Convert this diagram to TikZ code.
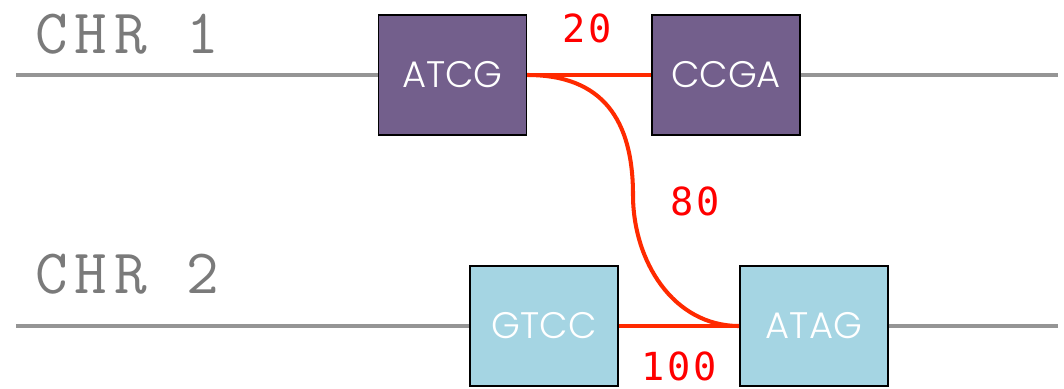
\documentclass[tikz,border=0pt]{standalone}
\usepackage{fontspec}
\newfontfamily\numfont[LetterSpace=8]{DejaVu Sans Mono}
\newfontfamily\chrfont[LetterSpace=11]{Latin Modern Mono}
\newfontfamily\basefont[UprightFont=* Light]{Poppins}
\definecolor{chrgray}{HTML}{959595}
\definecolor{labelgray}{HTML}{7A7A7A}
\definecolor{seqpurple}{HTML}{735F8C}
\definecolor{seqblue}{HTML}{A5D5E3}
\definecolor{linkred}{HTML}{FF2A00}
\tikzset{
	seq/.style={draw=black, line width=1pt, shape=rectangle, minimum width=2.96cm, minimum height=2.4cm, text=white, font=\basefont\fontsize{21}{21}\selectfont},
	chrline/.style={draw=chrgray, line width=2.3pt},
	link/.style={draw=linkred, line width=2.3pt},
	chrlabel/.style={text=labelgray, anchor=base west, inner sep=0pt, font=\chrfont\fontsize{36}{36}\selectfont},
	dist/.style={text=red, anchor=base, inner sep=0pt, font=\numfont\fontsize{22}{22}\selectfont}
}
\begin{document}
\begin{tikzpicture}
						\useasboundingbox (0,0) rectangle (21.28,-7.76);

						\node[chrlabel] (chr_1) at (0.7,-1.06) {CHR 1};
						\node[chrlabel] (chr_2) at (0.7,-5.86) {CHR 2};

						\node[seq, fill=seqpurple] (s_atcg) at (9.05,-1.5) {ATCG};
						\node[seq, fill=seqpurple] (s_ccga) at (14.52,-1.5) {CCGA};
						\node[seq, fill=seqblue] (s_gtcc) at (10.88,-6.52) {GTCC};
						\node[seq, fill=seqblue] (s_atag) at (16.28,-6.52) {ATAG};

						\coordinate (c1_start) at (0.32,-1.5);
						\coordinate (c1_end) at (21.16,-1.5);
						\coordinate (c2_start) at (0.32,-6.52);
						\coordinate (c2_end) at (21.16,-6.52);
						\coordinate (bend) at (12.66,-3.9);

						\draw[chrline] (c1_start) -- (s_atcg.west);
						\draw[chrline] (s_ccga.east) -- (c1_end);
						\draw[chrline] (c2_start) -- (s_gtcc.west);
						\draw[chrline] (s_atag.east) -- (c2_end);

						\draw[link] (s_atcg.east) -- (s_ccga.west);
						\draw[link] (s_atcg.east) to[out=0, in=90, looseness=1.2] (bend) to[out=-90, in=180] (s_atag.west);
						\draw[link] (s_gtcc.east) -- (s_atag.west);

						\node[dist] (d_20) at (11.74,-0.84) {20};
						\node[dist] (d_80) at (13.9,-4.3) {80};
						\node[dist] (d_100) at (13.58,-7.6) {100};
					\end{tikzpicture}
\end{document}
